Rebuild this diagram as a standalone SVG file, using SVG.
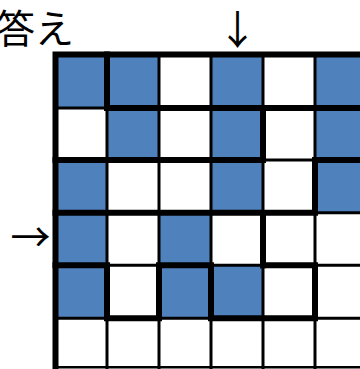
<svg xmlns="http://www.w3.org/2000/svg" width="360" height="369" viewBox="0 0 360 369">
<style>
.b{fill:#4F81BD}
.thin{stroke:#000;stroke-width:3;fill:none}
.thick{stroke:#000;stroke-width:6;fill:none;stroke-linecap:square}
.t{font-family:"Noto Sans CJK JP","Noto Sans",sans-serif;font-size:39px;fill:#000}
.a{font-family:"Noto Sans CJK JP","Noto Sans",sans-serif;font-size:40px;fill:#000}
</style>
<rect width="360" height="369" fill="#fff"/>
<g id="title"><text class="t" x="-4" y="43">答え</text></g>
<g id="arrow-top"><text class="a" x="237.5" y="43.5" text-anchor="middle">↓</text></g>
<g id="arrow-left"><text class="a" x="30.5" y="251.6" text-anchor="middle">→</text></g>
<g id="cells">
<rect class="b" x="55.5" y="54.5" width="51.5" height="53.5"/>
<rect class="b" x="107" y="54.5" width="52" height="53.5"/>
<rect class="b" x="211" y="54.5" width="52" height="53.5"/>
<rect class="b" x="315" y="54.5" width="52" height="53.5"/>
<rect class="b" x="107" y="108" width="52" height="52"/>
<rect class="b" x="211" y="108" width="52" height="52"/>
<rect class="b" x="315" y="108" width="52" height="52"/>
<rect class="b" x="55.5" y="160" width="51.5" height="52.8"/>
<rect class="b" x="211" y="160" width="52" height="52.8"/>
<rect class="b" x="315" y="160" width="52" height="52.8"/>
<rect class="b" x="55.5" y="212.8" width="51.5" height="52.4"/>
<rect class="b" x="159" y="212.8" width="52" height="52.4"/>
<rect class="b" x="55.5" y="265.2" width="51.5" height="53"/>
<rect class="b" x="159" y="265.2" width="52" height="53"/>
<rect class="b" x="211" y="265.2" width="52" height="53"/>
</g>
<g id="grid">
<path class="thin" d="M107 54.5V369M159 54.5V369M211 54.5V369M263 54.5V369M315 54.5V369M55.5 108H367M55.5 160H367M55.5 212.8H367M55.5 265.2H367M55.5 318.2H367"/>
<path stroke="#000" stroke-width="2.5" d="M55.5 367.3H367"/>
</g>
<g id="connectors">
<path class="thick" d="M55.5 54.5V372M55.5 54.5H367"/>
<path class="thick" d="M107 54.5V108M107 108H367"/>
<path class="thick" d="M55.5 160H263M315 160H367M263 108V160"/>
<path class="thick" d="M55.5 212.8H315M315 160V212.8M263 212.8V265.2"/>
<path class="thick" d="M55.5 265.2H107V318.2H159V265.2H211V318.2H315V265.2H263"/>
</g>
</svg>
